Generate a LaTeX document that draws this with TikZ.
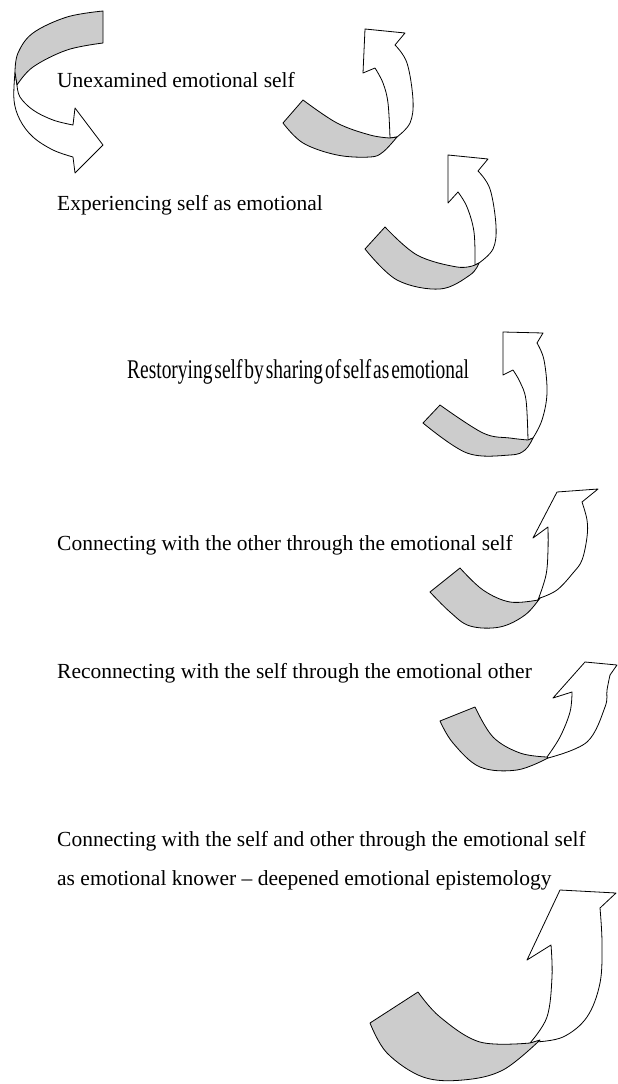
\documentclass[tikz,border=0pt]{standalone}
\usepackage{fontspec}
\setmainfont{Liberation Serif}
\definecolor{ribgray}{RGB}{204,204,204}
\begin{document}
\begin{tikzpicture}[x=1pt,y=-1pt,
  rib/.style={draw=black, line width=0.8pt, fill=ribgray, line join=round},
  wht/.style={draw=black, line width=0.8pt, fill=white, line join=round},
  lbl/.style={anchor=base west, inner sep=0pt, font=\fontsize{21.5}{24}\selectfont},
  sm/.style={smooth, tension=0.6}]
\useasboundingbox[fill=white] (0,0) rectangle (618,1084);

% Arrow A (U-turn, top left)
\path[wht] plot[sm] coordinates {(15,72) (14,100) (20,120) (33,137) (53,150) (73,157)} -- (75,173) -- (103,145) -- (75,108)
  -- plot[sm] coordinates {(73,125) (53,120) (33,110) (20,97) (17,85)} -- cycle;
\path[rib] plot[sm] coordinates {(103,11) (67,17) (33,33) (18,53) (15,72)}
  -- plot[sm] coordinates {(17,85) (33,67) (67,50) (103,43)} -- cycle;

% Arrow B
\path[wht] plot[sm] coordinates {(390,138) (388,103) (383,83) (375,68)} -- (363,73) -- (365,29) -- (405,33)
  -- plot[sm] coordinates {(395,45) (407,63) (413,100) (410,123) (397,137)} -- cycle;
\path[rib] plot[sm] coordinates {(303,100) (337,123) (370,135) (390,138)}
  -- plot[sm] coordinates {(397,137) (383,152) (370,157) (337,155) (303,143) (283,123)} -- cycle;

% Arrow C
\path[wht] plot[sm] coordinates {(475,265) (474,232) (467,207) (458,192)} -- (448,203) -- (448,155) -- (488,159)
  -- plot[sm] coordinates {(478,171) (490,189) (496,226) (493,249) (479,263)} -- cycle;
\path[rib] plot[sm] coordinates {(385,227) (417,255) (457,267) (475,265)}
  -- plot[sm] coordinates {(479,263) (470,275) (440,289) (397,280) (365,249)} -- cycle;

% Arrow D
\path[wht] plot[sm] coordinates {(528,440) (526,400) (520,382) (513,370)} -- (503,375) -- (503,332) -- (543,333)
  -- plot[sm] coordinates {(537,343) (544,360) (547,393) (542,420) (533,438)} -- cycle;
\path[rib] plot[sm] coordinates {(440,405) (483,433) (510,438) (528,440)}
  -- plot[sm] coordinates {(533,438) (525,450) (510,455) (467,453) (423,423)} -- cycle;

% Arrow E
\path[wht] plot[sm] coordinates {(538,600) (546,575) (548,550) (548,527)} -- (533,538) -- (557,492) -- (598,489)
  -- plot[sm] coordinates {(582,502) (587,520) (587,537) (582,560) (573,573) (557,590) (540,598)} -- cycle;
\path[rib] plot[sm] coordinates {(460,568) (483,590) (510,602) (538,600)}
  -- plot[sm] coordinates {(540,598) (525,615) (500,627) (470,626) (450,612) (430,592)} -- cycle;

% Arrow F
\path[wht] plot[sm] coordinates {(547,757) (560,737) (570,712) (572,692)} -- (553,698) -- (585,662) -- (617,665)
  -- plot[sm] coordinates {(610,675) (607,690) (605,707) (587,742) (548,758)} -- cycle;
\path[rib] plot[sm] coordinates {(475,707) (493,737) (520,753) (547,757)}
  -- plot[sm] coordinates {(548,758) (517,770) (480,767) (453,743) (440,721)} -- cycle;

% Arrow G
\path[wht] plot[sm] coordinates {(530,1043) (547,1017) (552,977) (551,945)} -- (527,960) -- (560,890) -- (616,893)
  -- plot[sm] coordinates {(600,908) (602,943) (600,983) (587,1017) (563,1037) (535,1042)} -- cycle;
\path[rib] plot[sm] coordinates {(418,992) (440,1017) (480,1042) (530,1043)}
  -- plot[sm] coordinates {(540,1040) (503,1070) (463,1080) (423,1077) (387,1053) (370,1023)} -- cycle;

% Texts
\node[lbl] (t1) at (57,87) {Unexamined emotional self};
\node[lbl] (t2) at (57,210) {Experiencing self as emotional};
\node[anchor=base west, inner sep=0pt] (t3) at (127,378)
  {\scalebox{0.72}[1]{\fontsize{27}{30}\selectfont\spaceskip=0.1em plus 0.05em Restorying self by sharing of self as emotional}};
\node[lbl] (t4) at (57,550) {Connecting with the other through the emotional self};
\node[lbl] (t5) at (57,678) {Reconnecting with the self through the emotional other};
\node[lbl] (t6) at (57,846) {Connecting with the self and other through the emotional self};
\node[lbl] (t7) at (57,885) {as emotional knower – deepened emotional epistemology};
\end{tikzpicture}
\end{document}
